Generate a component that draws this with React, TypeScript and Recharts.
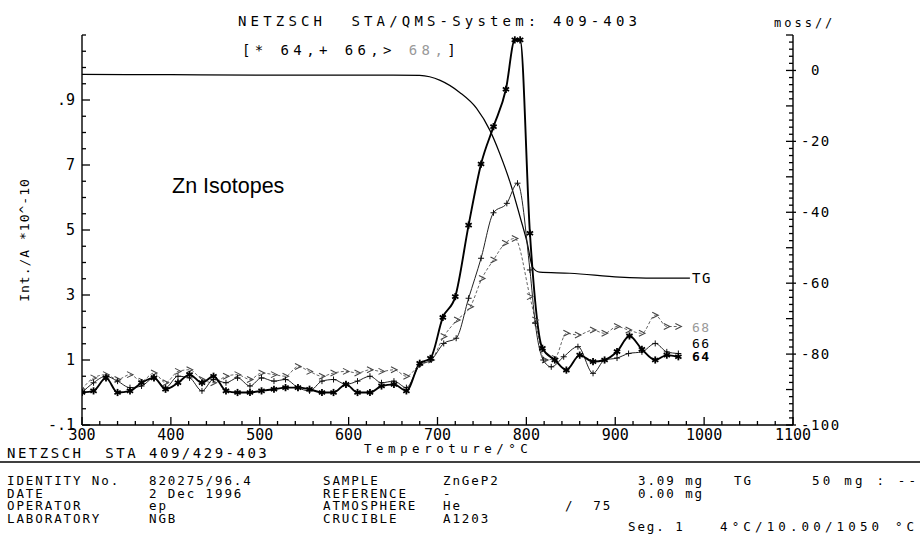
import { ComposedChart, Line, XAxis, YAxis } from "recharts";

// axis labels
const xMajor = [300, 400, 500, 600, 700, 800, 900, 1000, 1100];
const leftMajor = [-1, 1, 3, 5, 7, 9];
const leftLabels = ["-.1", "1", "3", "5", "7", ".9"];
const rightMajor = [0, -20, -40, -60, -80, -100];

// TG curve (mass %, right axis)
const tgTemp = [300, 400, 500, 600, 650, 680, 703, 725, 744, 759, 770, 782, 793, 801, 807, 815, 849, 905, 942, 984];
const tgMass = [-1.1, -1.2, -1.3, -1.3, -1.3, -1.4, -2.8, -6.2, -10.7, -16.9, -23.4, -31.8, -41.4, -48.7, -55.5, -56.9, -57.2, -58.3, -58.6, -58.6];

// m/z 64
const t64 = [300, 313, 327, 340, 354, 367, 381, 394, 408, 421, 435, 448, 462, 475, 489, 502, 516, 529, 543, 556, 570, 583, 597, 610, 624, 637, 651, 665, 680, 692, 706, 720, 735, 749, 763, 777, 787, 793, 804, 818, 832, 845, 860, 875, 888, 902, 916, 930, 945, 958, 971];
const i64 = [0.0, 0.05, 0.45, 0.0, 0.05, 0.3, 0.45, 0.1, 0.3, 0.55, 0.3, 0.5, 0.05, 0.0, 0.0, 0.05, 0.1, 0.15, 0.15, 0.1, 0.0, 0.0, 0.25, 0.0, 0.0, 0.2, 0.25, 0.05, 0.9, 1.05, 2.31, 2.95, 5.15, 7.03, 8.18, 9.33, 10.85, 10.85, 4.9, 1.36, 1.0, 0.69, 1.15, 0.95, 1.0, 1.26, 1.74, 1.33, 1.0, 1.15, 1.1];

// m/z 66
const t66 = [300, 313, 327, 340, 354, 367, 381, 394, 408, 421, 435, 448, 462, 475, 489, 502, 516, 529, 543, 556, 570, 583, 597, 610, 624, 637, 651, 665, 680, 693, 707, 721, 735, 749, 763, 778, 790, 804, 810, 819, 828, 842, 858, 875, 888, 902, 915, 930, 945, 958, 971];
const i66 = [0.0, 0.3, 0.5, 0.35, 0.15, 0.2, 0.45, 0.15, 0.5, 0.45, 0.05, 0.4, 0.3, 0.45, 0.2, 0.45, 0.35, 0.4, 0.15, 0.05, 0.35, 0.4, 0.25, 0.35, 0.5, 0.3, 0.35, 0.15, 0.85, 1.0, 1.51, 1.67, 2.9, 4.13, 5.53, 5.82, 6.44, 3.77, 2.13, 1.0, 0.79, 1.1, 1.41, 0.59, 1.0, 1.06, 1.2, 1.25, 1.51, 1.25, 1.2];

// m/z 68
const t68 = [300, 313, 327, 340, 354, 367, 381, 394, 408, 421, 435, 448, 462, 475, 489, 502, 516, 529, 543, 556, 570, 583, 597, 610, 624, 637, 651, 665, 680, 693, 707, 722, 737, 750, 763, 776, 787, 804, 810, 821, 832, 845, 858, 875, 888, 902, 915, 930, 945, 958, 971];
const i68 = [0.1, 0.45, 0.55, 0.4, 0.55, 0.35, 0.6, 0.3, 0.65, 0.7, 0.4, 0.3, 0.5, 0.55, 0.4, 0.6, 0.55, 0.5, 0.8, 0.65, 0.5, 0.6, 0.65, 0.6, 0.7, 0.65, 0.7, 0.5, 0.85, 1.0, 1.72, 2.23, 2.64, 3.51, 4.08, 4.59, 4.74, 2.95, 2.23, 1.0, 1.05, 1.82, 1.77, 1.92, 1.82, 2.03, 1.92, 1.82, 2.38, 2.03, 2.03];

const rows = (t: number[], v: number[]) => t.map((x, i) => ({ t: x, v: v[i] }));

const xTicks: number[] = [];
for (let v = 300; v <= 1100; v += 20) xTicks.push(v);
const leftTicks: number[] = [];
for (let v = -1; v <= 11; v += 0.5) leftTicks.push(v);
const rightTicks: number[] = [];
for (let v = -100; v <= 10; v += 2) rightTicks.push(v);

const MONO = "'DejaVu Sans Mono', monospace";

const XTick = (p: any) => {
  const { x, y, payload } = p;
  const major = xMajor.includes(payload.value);
  return (
    <g>
      <line x1={x} x2={x} y1={y} y2={y - (major ? 8 : 4)} stroke="#000" strokeWidth={1.3} />
      {major && (
        <text x={x} y={y + 15} textAnchor="middle" fontSize={15} fontFamily={MONO} fill="#000">
          {payload.value}
        </text>
      )}
    </g>
  );
};

const LeftTick = (p: any) => {
  const { x, y, payload } = p;
  const idx = leftMajor.indexOf(payload.value);
  const major = idx >= 0;
  return (
    <g>
      <line x1={x} x2={x + (major ? 8 : 4)} y1={y} y2={y} stroke="#000" strokeWidth={1.3} />
      {major && (
        <text x={x - 7} y={y + 5} textAnchor="end" fontSize={15} fontFamily={MONO} fill="#000">
          {leftLabels[idx]}
        </text>
      )}
    </g>
  );
};

const RightTick = (p: any) => {
  const { x, y, payload } = p;
  const v = payload.value;
  const major = rightMajor.includes(v);
  const len = major || v % 10 === 0 ? 7 : 4;
  return (
    <g>
      <line x1={x} x2={x - len} y1={y} y2={y} stroke="#000" strokeWidth={1.3} />
      {major && <line x1={x} x2={x + 3} y1={y} y2={y} stroke="#000" strokeWidth={1.3} />}
      {major && (
        <text x={x + 8 + (v >= 0 ? 10 : 0)} y={y + 5} fontSize={14} letterSpacing={1.5} fontFamily={MONO} fill="#000">
          {v}
        </text>
      )}
    </g>
  );
};

const StarDot = (p: any) => {
  const { cx, cy, index } = p;
  if (cx == null || cy == null) return <g key={index} />;
  const r = 3.6;
  return (
    <g key={index} stroke="#000" strokeWidth={1.8}>
      <line x1={cx} x2={cx} y1={cy - r} y2={cy + r} />
      <line x1={cx - r * 0.87} x2={cx + r * 0.87} y1={cy - r / 2} y2={cy + r / 2} />
      <line x1={cx - r * 0.87} x2={cx + r * 0.87} y1={cy + r / 2} y2={cy - r / 2} />
    </g>
  );
};

const PlusDot = (p: any) => {
  const { cx, cy, index } = p;
  if (cx == null || cy == null) return <g key={index} />;
  const r = 3;
  return (
    <g key={index} stroke="#111" strokeWidth={1}>
      <line x1={cx - r} x2={cx + r} y1={cy} y2={cy} />
      <line x1={cx} x2={cx} y1={cy - r} y2={cy + r} />
    </g>
  );
};

const ArrowDot = (p: any) => {
  const { cx, cy, index } = p;
  if (cx == null || cy == null) return <g key={index} />;
  const r = 3;
  return (
    <polyline
      key={index}
      points={`${cx - r},${cy - r} ${cx + r},${cy} ${cx - r},${cy + r}`}
      fill="none"
      stroke="#444"
      strokeWidth={1.1}
    />
  );
};

const tableRows = [
  ["IDENTITY No.", "820275/96.4", "SAMPLE", "ZnGeP2"],
  ["DATE", "2 Dec 1996", "REFERENCE", "-"],
  ["OPERATOR", "ep", "ATMOSPHERE", "He"],
  ["LABORATORY", "NGB", "CRUCIBLE", "A1203"],
];
const rowBase = [485, 497.5, 510, 522.5];
const colX = [7, 149, 323, 443];

export default function App() {
  const txt = { fontFamily: MONO, fill: "#000" } as const;
  const pre = { whiteSpace: "pre" } as const;
  const tbl = { fontSize: 12.5, letterSpacing: 1.9, fontFamily: MONO, fill: "#000" } as const;
  return (
    <div style={{ position: "absolute", left: 0, top: 0, width: 920, height: 543, background: "#fff" }}>
      <ComposedChart width={920} height={543} margin={{ top: 35, right: 67, left: 42, bottom: 88 }}>
        <XAxis
          dataKey="t"
          type="number"
          domain={[300, 1100]}
          ticks={xTicks}
          interval={0}
          tickSize={0}
          tickMargin={0}
          tickLine={false}
          tick={<XTick />}
          height={30}
          axisLine={{ stroke: "#000", strokeWidth: 1.4 }}
          allowDataOverflow
        />
        <YAxis
          yAxisId="left"
          type="number"
          domain={[-1, 11]}
          ticks={leftTicks}
          interval={0}
          tickSize={0}
          tickMargin={0}
          tickLine={false}
          tick={<LeftTick />}
          width={40}
          axisLine={{ stroke: "#000", strokeWidth: 1.4 }}
          allowDataOverflow
        />
        <YAxis
          yAxisId="right"
          orientation="right"
          type="number"
          domain={[-100, 10]}
          ticks={rightTicks}
          interval={0}
          tickSize={0}
          tickMargin={0}
          tickLine={false}
          tick={<RightTick />}
          width={60}
          axisLine={{ stroke: "#000", strokeWidth: 1.4 }}
          allowDataOverflow
        />
        <Line
          yAxisId="right"
          data={rows(tgTemp, tgMass)}
          dataKey="v"
          type="monotone"
          stroke="#000"
          strokeWidth={1.2}
          dot={false}
          activeDot={false}
          isAnimationActive={false}
        />
        <Line
          yAxisId="left"
          data={rows(t68, i68)}
          dataKey="v"
          type="monotone"
          stroke="#666"
          strokeWidth={1}
          strokeDasharray="3 2"
          dot={ArrowDot}
          activeDot={false}
          isAnimationActive={false}
        />
        <Line
          yAxisId="left"
          data={rows(t66, i66)}
          dataKey="v"
          type="monotone"
          stroke="#222"
          strokeWidth={1}
          dot={PlusDot}
          activeDot={false}
          isAnimationActive={false}
        />
        <Line
          yAxisId="left"
          data={rows(t64, i64)}
          dataKey="v"
          type="monotone"
          stroke="#000"
          strokeWidth={1.9}
          dot={StarDot}
          activeDot={false}
          isAnimationActive={false}
        />
      </ComposedChart>
      <svg width={920} height={543} style={{ position: "absolute", left: 0, top: 0, pointerEvents: "none" }}>
        <text x={238} y={26} fontSize={14} textLength={399} lengthAdjust="spacing" {...txt} style={pre}>
          NETZSCH  STA/QMS-System: 409-403
        </text>
        <text x={242} y={55} fontSize={14} letterSpacing={4.4} {...txt} style={pre}>
          <tspan>[* 64,+ 66,&gt; </tspan>
          <tspan fill="#999">68,</tspan>
          <tspan>]</tspan>
        </text>
        <text x={774} y={27} fontSize={12} letterSpacing={3} {...txt}>
          moss//
        </text>
        <text x={172} y={193} fontSize={21.5} fontFamily="'Liberation Sans', Arial, sans-serif" fill="#000">
          Zn Isotopes
        </text>
        <text
          x={29}
          y={240}
          fontSize={13}
          letterSpacing={1}
          textAnchor="middle"
          transform="rotate(-90 29 240)"
          {...txt}
        >
          Int./A *10^-10
        </text>
        <text x={692} y={283} fontSize={14} letterSpacing={1.5} {...txt}>TG</text>
        <text x={692} y={332} fontSize={13} letterSpacing={1.5} fontFamily={MONO} fill="#999">68</text>
        <text x={692} y={348} fontSize={13} letterSpacing={1.5} {...txt}>66</text>
        <text x={692} y={361} fontSize={13} letterSpacing={1.5} fontWeight="bold" {...txt}>64</text>
        <text x={364} y={453} fontSize={12.5} letterSpacing={4.5} {...txt}>
          Temperoture/°C
        </text>
        <text x={7} y={458} fontSize={14} letterSpacing={2.5} {...txt} style={pre}>
          NETZSCH  STA 409/429-403
        </text>
        <line x1={0} x2={920} y1={462} y2={462} stroke="#000" strokeWidth={1.5} />
        {tableRows.map((r, i) =>
          r.map((c, j) => (
            <text key={`${i}-${j}`} x={colX[j]} y={rowBase[i]} {...tbl}>
              {c}
            </text>
          ))
        )}
        <text x={638} y={rowBase[0]} {...tbl} style={pre}>3.09 mg</text>
        <text x={734} y={rowBase[0]} {...tbl}>TG</text>
        <text x={812} y={rowBase[0]} {...tbl} textLength={106} lengthAdjust="spacing" style={pre}>50 mg : --</text>
        <text x={638} y={rowBase[1]} {...tbl} style={pre}>0.00 mg</text>
        <text x={565} y={rowBase[2]} {...tbl} style={pre}>/  75</text>
        <text x={628} y={531} {...tbl} style={pre}>Seg. 1</text>
        <text x={720} y={531} {...tbl} textLength={196} lengthAdjust="spacing" style={pre}>4°C/10.00/1050 °C</text>
      </svg>
    </div>
  );
}
